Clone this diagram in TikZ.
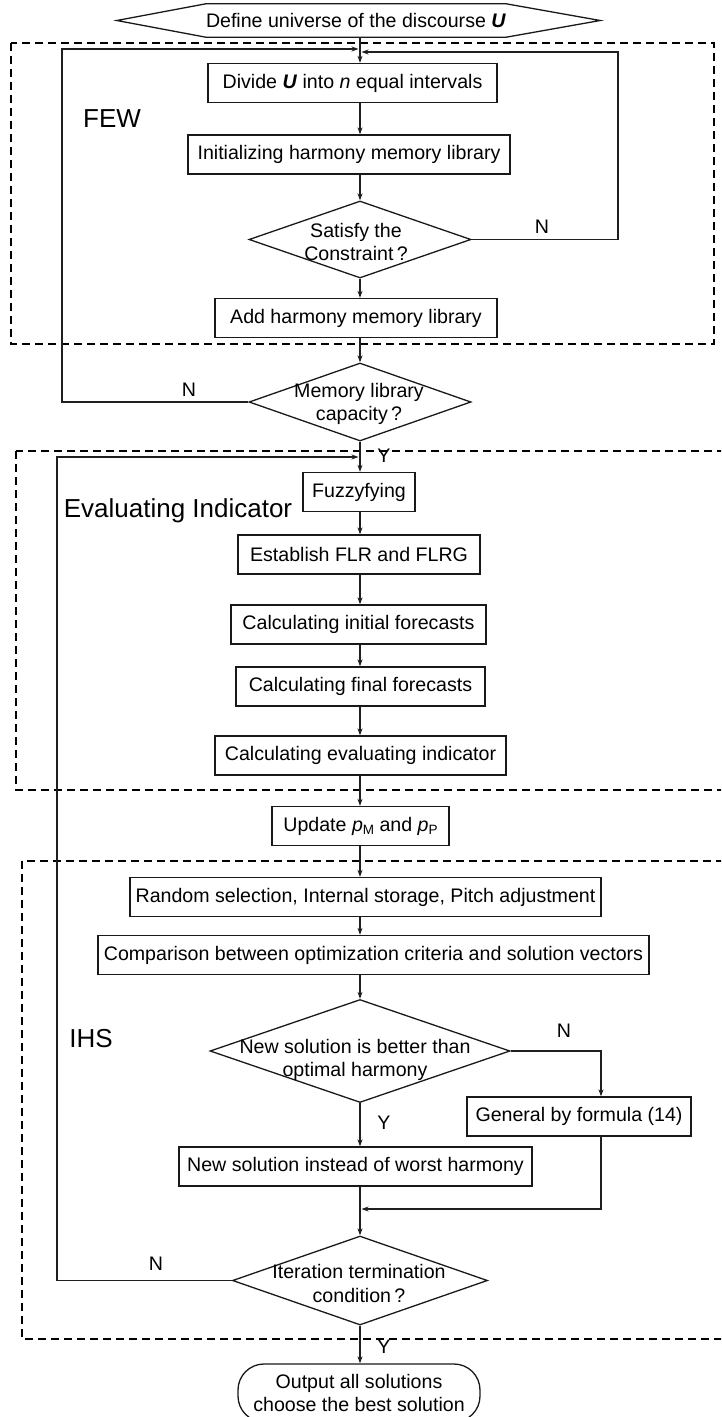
\documentclass[tikz,border=0pt]{standalone}
\usepackage{fontspec}
\setmainfont{Liberation Sans}
\usetikzlibrary{shapes.geometric,arrows.meta,calc}
\newcommand\mysub[1]{\raisebox{-0.35ex}{\fontsize{13.5}{14}\selectfont #1}}
\begin{document}
\begin{tikzpicture}[x=1pt,y=-1pt,
  every node/.style={font=\fontsize{19.6}{23.5}\selectfont, text=black},
  outline/.style={draw=black!90, line width=1.3pt},
  box/.style={outline, minimum height=39pt, inner sep=0pt, align=center},
  dia/.style={outline, diamond, inner sep=0pt},
  conn/.style={draw=black!88, line width=1.2pt},
  arr/.style={conn, -{Stealth[length=7pt,width=5pt]}},
  region/.style={draw=black, line width=2pt, dash pattern=on 8pt off 5pt},
  big/.style={font=\fontsize{26}{30}\selectfont, inner sep=0pt},
  lab/.style={inner sep=0pt}
]
\path[use as bounding box, clip] (0,0) rectangle (721,1417);

% dashed regions
\draw[region] (11,43) rectangle (714,344);
\draw[region] (16,451) rectangle (740,790);
\draw[region] (22,861) rectangle (740,1339);

\coordinate (spine) at (360,0);

% start hexagon
\node[inner sep=0pt, minimum width=294, minimum height=33] (hex) at (356,20.5) {Define universe of the discourse \textbf{\textit{U}}};
\draw[outline] (hex.north west) -- (hex.north east) -- ($(hex.east)+(94,0)$) -- (hex.south east) -- (hex.south west) -- ($(hex.west)+(-89,0)$) -- cycle;

% FEW
\node[box, minimum width=289] (div) at (352.5,83) {Divide \textbf{\textit{U}} into \textit{n} equal intervals};
\node[big] (few) at (112,119) {FEW};
\node[box, minimum width=322] (init) at (349,154.5) {Initializing harmony memory library};
\node[dia, minimum width=222, minimum height=77] (sat) at (360,239.5) {};
\node[lab, align=center] (sattxt) at (356,242) {Satisfy the\\Constraint\,?};
\node[lab] (n1) at (542,227) {N};
\node[box, minimum width=282] (add) at (356,318) {Add harmony memory library};
\node[dia, minimum width=222, minimum height=78] (mem) at (360,402) {};
\node[lab, align=center] (memtxt) at (359,404) {Memory library\\capacity\,?};
\node[lab] (n2) at (189,390) {N};
\node[lab] (y1) at (384,456) {Y};

% Evaluating indicator
\node[box, minimum width=112] (fuz) at (359,492) {Fuzzyfying};
\node[big] (evl) at (178,511) {Evaluating Indicator};
\node[box, minimum width=242] (est) at (359,554.5) {Establish FLR and FLRG};
\node[box, minimum width=255] (cin) at (358.5,624.5) {Calculating initial forecasts};
\node[box, minimum width=249] (cfi) at (360.5,686.5) {Calculating final forecasts};
\node[box, minimum width=291] (cev) at (360.5,755.5) {Calculating evaluating indicator};
\node[box, minimum width=177] (upd) at (360.5,826) {Update \textit{p}\mysub{M} and \textit{p}\mysub{P}};

% IHS
\node[box, minimum width=471] (rnd) at (365.5,897) {Random selection, Internal storage, Pitch adjustment};
\node[box, minimum width=551] (cmp) at (373.5,955) {Comparison between optimization criteria and solution vectors};
\node[big] (ihs) at (91,1039) {IHS};
\node[dia, minimum width=300, minimum height=103] (ns) at (360,1051) {};
\node[lab, align=center] (nstxt) at (355,1060) {New solution is better than\\optimal harmony};
\node[lab] (n3) at (564,1031) {N};
\node[box, minimum width=224] (gen) at (579,1116.5) {General by formula (14)};
\node[lab] (y2) at (384,1123) {Y};
\node[box, minimum width=353] (nsi) at (355.5,1166.5) {New solution instead of worst harmony};
\node[dia, minimum width=255, minimum height=89] (itr) at (360,1280.5) {};
\node[lab, align=center] (itrtxt) at (359,1283.5) {Iteration termination\\condition\,?};
\node[lab] (n4) at (156,1264) {N};
\node[lab] (y3) at (384,1347) {Y};
\node[outline, rounded corners=26pt, minimum width=242, minimum height=58, inner sep=0pt, align=center] (out) at (359,1393) {Output all solutions\\choose the best solution};

% named free ends
\coordinate (r1) at (618,52);
\coordinate (j1r) at (361.5,52);
\coordinate (l1) at (62,49);
\coordinate (j1l) at (358.5,49);
\coordinate (l2) at (57,457);
\coordinate (j2) at (358.5,457);
\coordinate (gx) at (601,0);
\coordinate (mg) at (361.5,1209);

% main spine
\draw[arr] (hex.south -| spine) -- (div.north -| spine);
\draw[arr] (div.south -| spine) -- (init.north -| spine);
\draw[arr] (init.south -| spine) -- (sat.north);
\draw[arr] (sat.south) -- (add.north -| spine);
\draw[arr] (add.south -| spine) -- (mem.north);
\draw[arr] (mem.south) -- (fuz.north -| spine);
\draw[arr] (fuz.south -| spine) -- (est.north -| spine);
\draw[arr] (est.south -| spine) -- (cin.north -| spine);
\draw[arr] (cin.south -| spine) -- (cfi.north -| spine);
\draw[arr] (cfi.south -| spine) -- (cev.north -| spine);
\draw[arr] (cev.south -| spine) -- (upd.north -| spine);
\draw[arr] (upd.south -| spine) -- (rnd.north -| spine);
\draw[arr] (rnd.south -| spine) -- (cmp.north -| spine);
\draw[arr] (cmp.south -| spine) -- (ns.north);
\draw[arr] (ns.south) -- (nsi.north -| spine);
\draw[arr] (nsi.south -| spine) -- (itr.north);
\draw[arr] (itr.south) -- (out.north -| spine);

% loops
\draw[arr] (sat.east) -| (r1) -- (j1r);
\draw[arr] (mem.west) -| (l1) -- (j1l);
\draw[arr] (itr.west) -| (l2) -- (j2);
\draw[arr] (ns.east) -| (gen.north -| gx);
\draw[arr] (gen.south -| gx) |- (mg);
\end{tikzpicture}
\end{document}
